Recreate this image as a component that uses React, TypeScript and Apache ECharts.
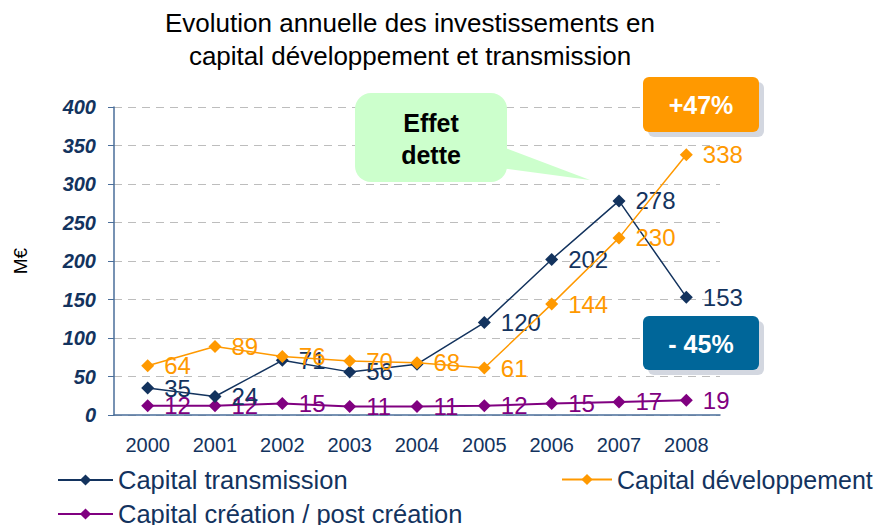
import React, { useEffect, useRef } from "react";
import * as echarts from "echarts";

const years = ["2000", "2001", "2002", "2003", "2004", "2005", "2006", "2007", "2008"];
const transmission = [35, 24, 71, 56, 66, 120, 202, 278, 153];
const developpement = [64, 89, 76, 70, 68, 61, 144, 230, 338];
const creation = [12, 12, 15, 11, 11, 12, 15, 17, 19];
const hiddenTransmissionLabels = ["2004"];

const FONT = "'Liberation Sans', Arial, sans-serif";
const NAVY = "#13335E";
const ORANGE = "#FF9900";
const PURPLE = "#800080";

export default function App() {
  const ref = useRef<HTMLDivElement>(null);
  useEffect(() => {
    if (!ref.current) return;
    const chart = echarts.init(ref.current, undefined, { renderer: "svg" });
    const label = (color: string) => ({
      show: true,
      position: "right" as const,
      distance: 10,
      color,
      fontSize: 24,
      fontFamily: FONT,
    });
    const legendText = { fontSize: 25.5, color: NAVY, fontFamily: FONT };
    chart.setOption({
      animation: false,
      textStyle: { fontFamily: FONT },
      title: {
        text: "Evolution annuelle des investissements en\ncapital développement et transmission",
        left: 405,
        textAlign: "center",
        top: 1,
        textStyle: { fontSize: 26, fontWeight: "normal", color: "#000", lineHeight: 33, fontFamily: FONT },
      },
      grid: { left: 114, right: 163, top: 107, bottom: 110, containLabel: false },
      xAxis: {
        type: "category",
        data: years,
        boundaryGap: true,
        axisLine: { lineStyle: { color: "#4A6E9A", width: 1.5 } },
        axisTick: { show: false },
        axisLabel: { color: NAVY, fontSize: 20, margin: 20, fontFamily: FONT },
      },
      yAxis: {
        type: "value",
        min: 0,
        max: 400,
        interval: 50,
        name: "M€",
        nameLocation: "middle",
        nameGap: 84,
        nameRotate: 90,
        nameTextStyle: { fontSize: 19, color: "#000", fontFamily: FONT },
        axisLine: { show: true, lineStyle: { color: "#4A6E9A", width: 1.5 } },
        axisTick: { show: true, length: 6, lineStyle: { color: "#4A6E9A" } },
        axisLabel: { color: NAVY, fontSize: 20, fontWeight: "bold", fontStyle: "italic", margin: 18, fontFamily: FONT },
        splitLine: { show: true, lineStyle: { color: "#BDBDBD", type: [8, 6], width: 1.2 } },
      },
      legend: [
        {
          data: ["Capital transmission"],
          left: 52,
          top: 462,
          itemWidth: 55,
          itemHeight: 14,
          textStyle: legendText,
        },
        {
          data: ["Capital développement"],
          left: 556,
          top: 462,
          itemWidth: 50,
          itemHeight: 14,
          textStyle: { ...legendText, fontSize: 25 },
        },
        {
          data: ["Capital création / post création"],
          left: 52,
          top: 496,
          itemWidth: 55,
          itemHeight: 14,
          textStyle: legendText,
        },
      ],
      series: [
        {
          name: "Capital création / post création",
          type: "line",
          data: creation,
          symbol: "diamond",
          symbolSize: 13,
          itemStyle: { color: PURPLE },
          lineStyle: { color: PURPLE, width: 2 },
          label: label(PURPLE),
          z: 2,
        },
        {
          name: "Capital transmission",
          type: "line",
          data: transmission.map((v, i) =>
            hiddenTransmissionLabels.includes(years[i]) ? { value: v, label: { show: false } } : v
          ),
          symbol: "diamond",
          symbolSize: 13,
          itemStyle: { color: NAVY },
          lineStyle: { color: NAVY, width: 1.5 },
          label: label(NAVY),
          z: 3,
        },
        {
          name: "Capital développement",
          type: "line",
          data: developpement,
          symbol: "diamond",
          symbolSize: 13,
          itemStyle: { color: ORANGE },
          lineStyle: { color: ORANGE, width: 1.5 },
          label: label(ORANGE),
          z: 4,
        },
      ],
      graphic: [
        {
          type: "polygon",
          shape: { points: [[500, 146], [590, 180], [500, 168]] },
          style: { fill: "#CCFFCC" },
          z: 10,
        },
        {
          type: "rect",
          shape: { x: 355, y: 93, width: 152, height: 89, r: 16 },
          style: { fill: "#CCFFCC" },
          z: 10,
        },
        {
          type: "text",
          x: 431,
          y: 139,
          style: {
            text: "Effet\ndette",
            fill: "#000",
            font: `bold 25px ${FONT}`,
            lineHeight: 32,
            align: "center",
            verticalAlign: "middle",
          },
          z: 11,
        },
        {
          type: "rect",
          shape: { x: 648, y: 82, width: 116, height: 55, r: 6 },
          style: { fill: "#D3D7E0" },
          z: 10,
        },
        {
          type: "rect",
          shape: { x: 643, y: 77, width: 116, height: 55, r: 6 },
          style: { fill: ORANGE },
          z: 10,
        },
        {
          type: "text",
          x: 701,
          y: 105,
          style: { text: "+47%", fill: "#fff", font: `bold 25px ${FONT}`, align: "center", verticalAlign: "middle" },
          z: 11,
        },
        {
          type: "rect",
          shape: { x: 648, y: 321, width: 116, height: 54, r: 6 },
          style: { fill: "#D3D7E0" },
          z: 10,
        },
        {
          type: "rect",
          shape: { x: 643, y: 316, width: 116, height: 54, r: 6 },
          style: { fill: "#006699" },
          z: 10,
        },
        {
          type: "text",
          x: 701,
          y: 344,
          style: { text: "- 45%", fill: "#fff", font: `bold 25px ${FONT}`, align: "center", verticalAlign: "middle" },
          z: 11,
        },
      ],
    });
    return () => chart.dispose();
  }, []);
  return <div ref={ref} style={{ width: 883, height: 525, position: "absolute", left: 0, top: 0 }} />;
}
